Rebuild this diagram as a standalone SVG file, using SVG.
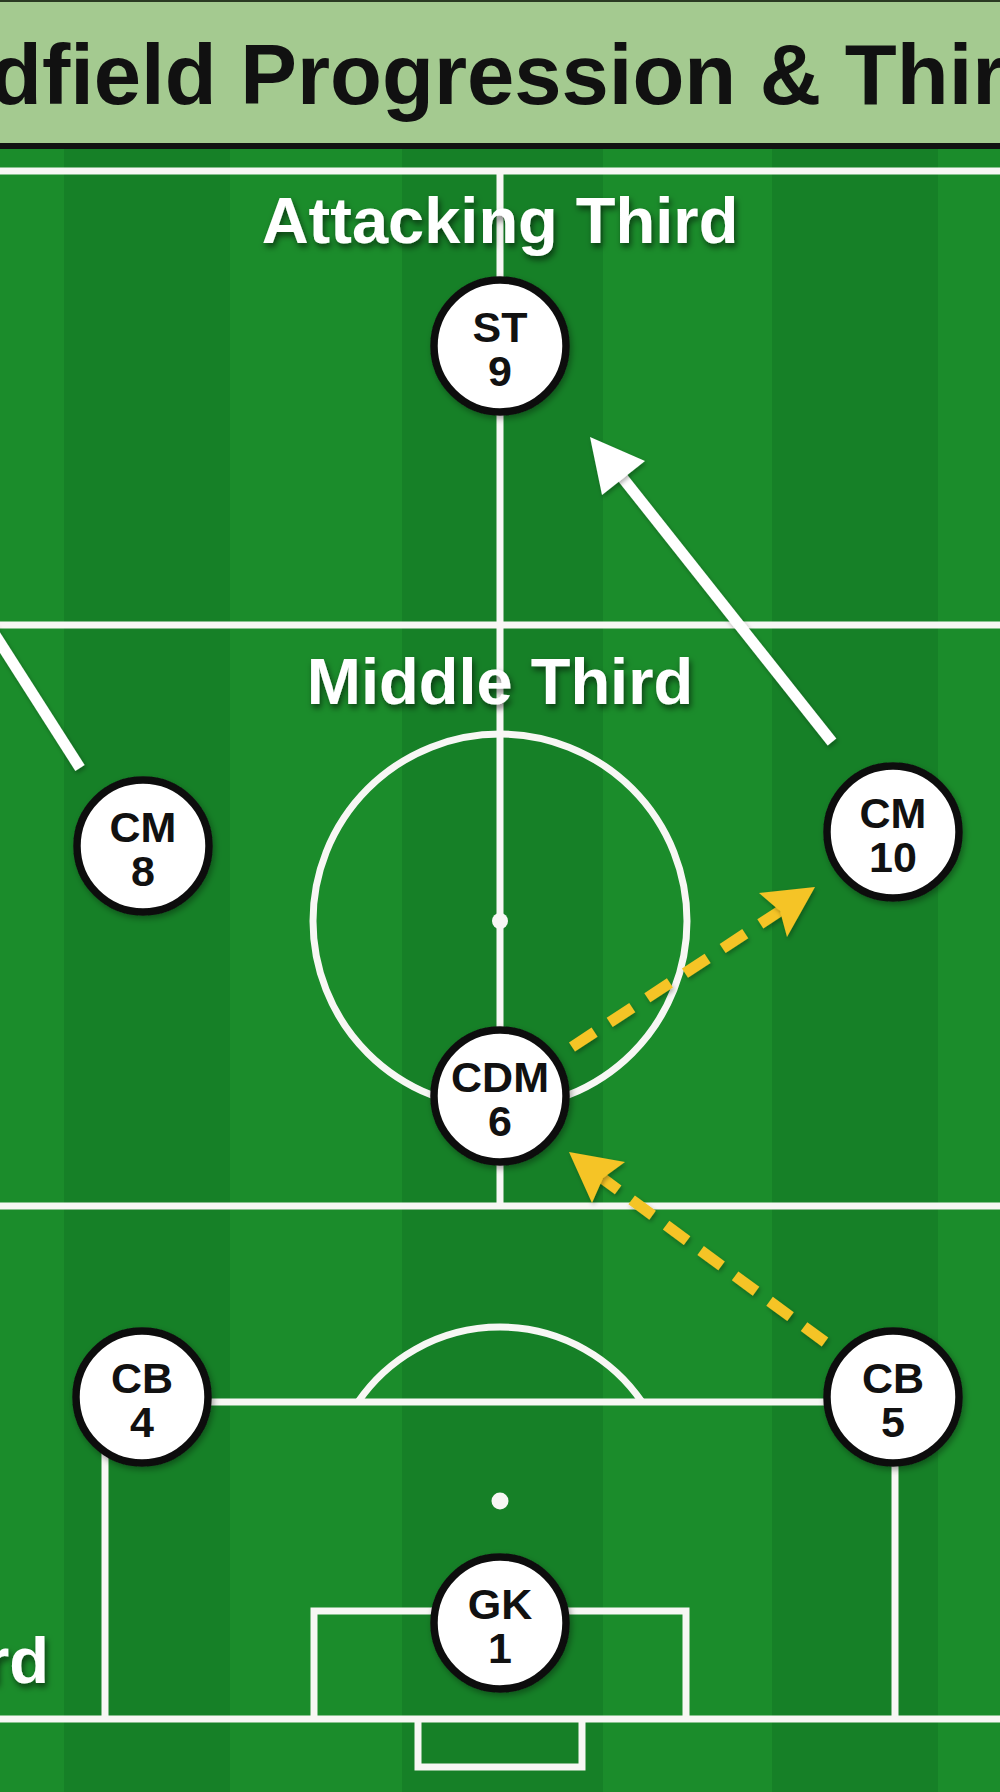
<svg xmlns="http://www.w3.org/2000/svg" width="1000" height="1792" viewBox="0 0 1000 1792">
  <defs>
    <style>
      .pl{fill:none;stroke:#f7f7f4;stroke-width:7}
      .spot{fill:#f7f7f4}
      .zone{font-family:"Liberation Sans",Arial,Helvetica,sans-serif;font-weight:bold;font-size:65px;fill:#ffffff;filter:url(#tshadow)}
      .node circle{fill:#ffffff;stroke:#111111;stroke-width:7.5;filter:url(#nshadow)}
      .node text{font-family:"Liberation Sans",Arial,Helvetica,sans-serif;font-weight:bold;font-size:43px;fill:#111111;text-anchor:middle}
      .wline{fill:none;stroke:#ffffff;stroke-width:11;stroke-linecap:butt;filter:url(#ashadow)}
      .whead{fill:#ffffff;filter:url(#ashadow)}
      .yline{fill:none;stroke:#f5c425;stroke-width:11;stroke-linecap:butt;filter:url(#ashadow)}
      .yhead{fill:#f5c425;filter:url(#ashadow)}
    </style>
    <filter id="tshadow" x="-10%" y="-30%" width="120%" height="160%">
      <feDropShadow dx="2" dy="4" stdDeviation="3" flood-color="#000000" flood-opacity="0.55"/>
    </filter>
    <filter id="nshadow" x="-20%" y="-20%" width="140%" height="140%">
      <feDropShadow dx="2" dy="3" stdDeviation="3" flood-color="#000000" flood-opacity="0.35"/>
    </filter>
    <filter id="ashadow" x="-20%" y="-20%" width="140%" height="140%">
      <feDropShadow dx="1.5" dy="2.5" stdDeviation="2" flood-color="#000000" flood-opacity="0.3"/>
    </filter>
  </defs>

  <!-- pitch background and stripes -->
  <rect x="0" y="0" width="1000" height="1792" fill="#1b8c2b"/>
  <g id="stripes" fill="#168027">
    <rect x="64" y="146" width="166" height="1646"/>
    <rect x="402" y="146" width="201" height="1646"/>
    <rect x="772" y="146" width="166" height="1646"/>
  </g>

  <!-- title bar -->
  <g id="title">
    <rect x="0" y="0" width="1000" height="146" fill="#a4ca90"/>
    <rect x="0" y="0" width="1000" height="2" fill="#2a3a22"/>
    <rect x="0" y="143" width="1000" height="6" fill="#111111"/>
    <text x="-10" y="104" font-family="'Liberation Sans', Arial, Helvetica, sans-serif" font-weight="bold" font-size="85" fill="#111111">dfield Progression &amp; Thir</text>
  </g>

  <!-- pitch markings -->
  <g id="pitch">
    <line class="pl" x1="0" y1="171" x2="1000" y2="171"/>
    <line class="pl" x1="500" y1="171" x2="500" y2="1206"/>
    <line class="pl" x1="0" y1="625" x2="1000" y2="625"/>
    <line class="pl" x1="0" y1="1206" x2="1000" y2="1206"/>
    <circle class="pl" cx="500" cy="921" r="187"/>
    <circle class="spot" cx="500" cy="921" r="8"/>
    <path class="pl" d="M358,1402 A172,172 0 0 1 642,1402"/>
    <path class="pl" d="M105,1719 V1402 H895 V1719"/>
    <line class="pl" x1="0" y1="1719" x2="1000" y2="1719"/>
    <path class="pl" d="M314,1719 V1611 H686 V1719"/>
    <path class="pl" d="M418,1719 V1767 H582 V1719"/>
    <circle class="spot" cx="500" cy="1501" r="8.5"/>
  </g>

  <!-- zone labels -->
  <g id="labels">
    <text class="zone" x="500" y="243" text-anchor="middle">Attacking Third</text>
    <text class="zone" x="500" y="704" text-anchor="middle">Middle Third</text>
    <text class="zone" x="-16" y="1683">rd</text>
  </g>

  <!-- connectors -->
  <g id="connectors">
    <line class="wline" x1="-10" y1="627" x2="80" y2="768"/>
    <line class="wline" x1="832" y1="742" x2="618" y2="472"/>
    <polygon class="whead" points="590,437 645,461 602,495"/>
    <line class="yline" x1="572" y1="1047" x2="780" y2="911" stroke-dasharray="27 18"/>
    <polygon class="yhead" points="815,887 759,893 780,911 787,937"/>
    <line class="yline" x1="825" y1="1342" x2="602" y2="1178" stroke-dasharray="26 16.8"/>
    <polygon class="yhead" points="569,1152 625,1162 603,1178 592,1203"/>
  </g>

  <!-- player nodes -->
  <g id="node-st9" class="node">
    <circle cx="500" cy="346" r="66"/>
    <text x="500" y="342">ST</text>
    <text x="500" y="386">9</text>
  </g>
  <g id="node-cm8" class="node">
    <circle cx="143" cy="846" r="66"/>
    <text x="143" y="842">CM</text>
    <text x="143" y="886">8</text>
  </g>
  <g id="node-cm10" class="node">
    <circle cx="893" cy="832" r="66"/>
    <text x="893" y="828">CM</text>
    <text x="893" y="872">10</text>
  </g>
  <g id="node-cdm6" class="node">
    <circle cx="500" cy="1096" r="66"/>
    <text x="500" y="1092">CDM</text>
    <text x="500" y="1136">6</text>
  </g>
  <g id="node-cb4" class="node">
    <circle cx="142" cy="1397" r="66"/>
    <text x="142" y="1393">CB</text>
    <text x="142" y="1437">4</text>
  </g>
  <g id="node-cb5" class="node">
    <circle cx="893" cy="1397" r="66"/>
    <text x="893" y="1393">CB</text>
    <text x="893" y="1437">5</text>
  </g>
  <g id="node-gk1" class="node">
    <circle cx="500" cy="1623" r="66"/>
    <text x="500" y="1619">GK</text>
    <text x="500" y="1663">1</text>
  </g>
</svg>
